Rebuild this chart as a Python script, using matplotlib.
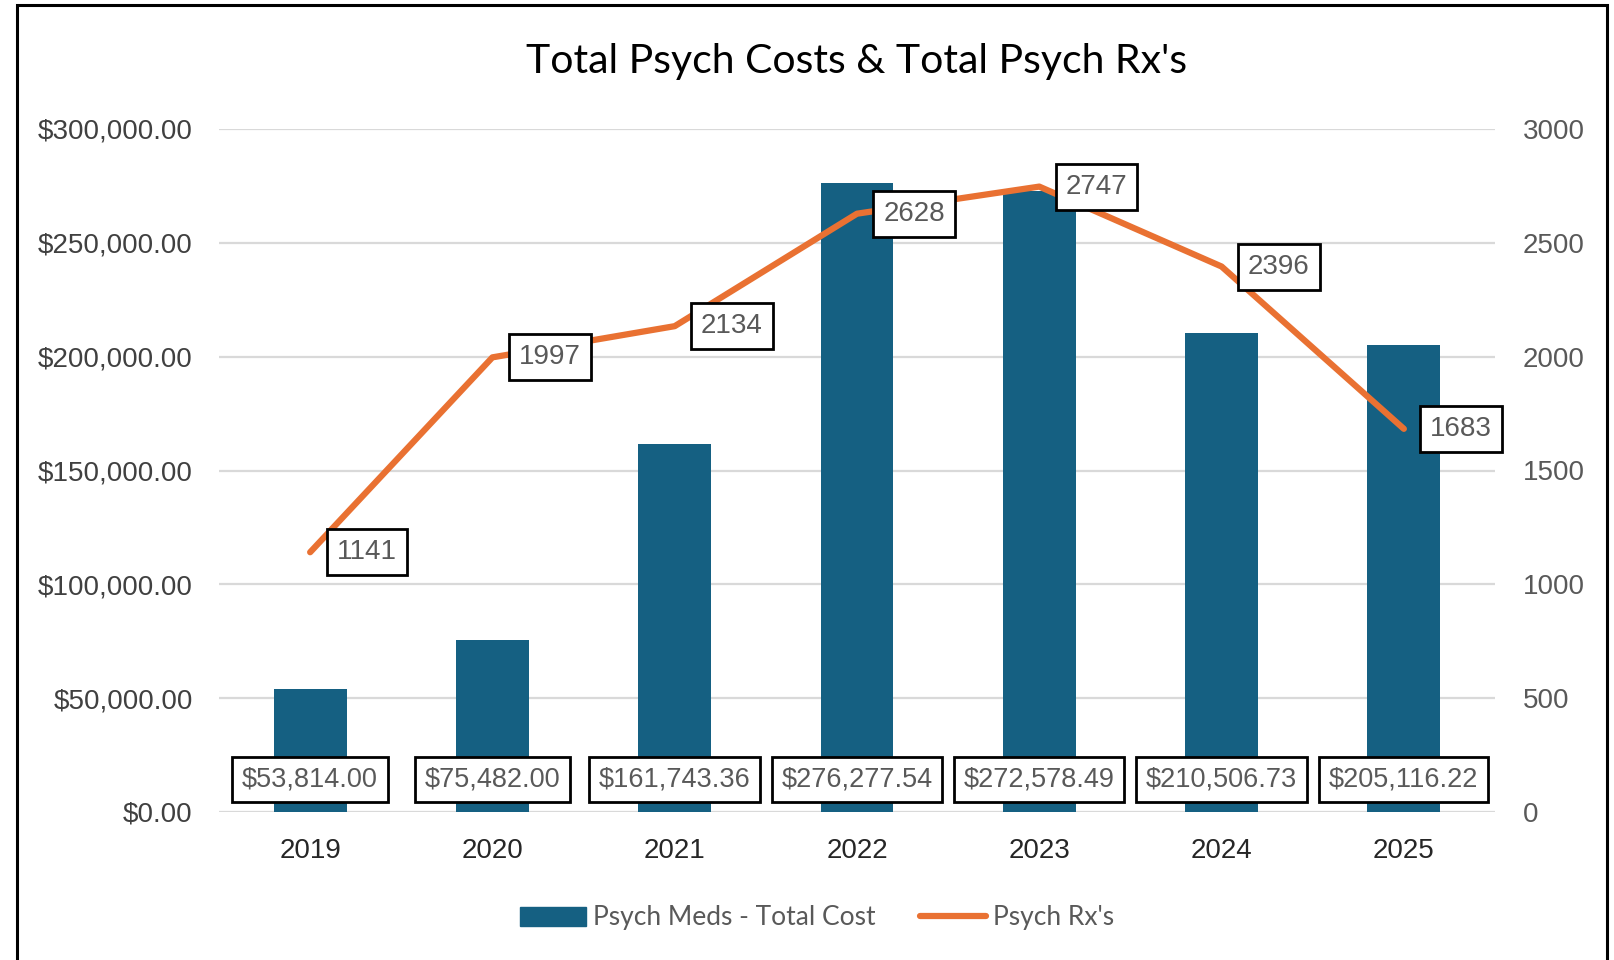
import numpy as np
import matplotlib
matplotlib.use("Agg")
import matplotlib.pyplot as plt
from matplotlib.ticker import FuncFormatter
from matplotlib.patches import Patch, Rectangle
from matplotlib.lines import Line2D

# Chart data
years = ["2019", "2020", "2021", "2022", "2023", "2024", "2025"]
total_cost = [53814.00, 75482.00, 161743.36, 276277.54, 272578.49, 210506.73, 205116.22]
psych_rx = [1141, 1997, 2134, 2628, 2747, 2396, 1683]

BLUE = "#156082"
ORANGE = "#E97132"
GRID = "#D9D9D9"
LABEL = "#595959"

W, H = 1614, 960
fig = plt.figure(figsize=(W / 100, H / 100), dpi=100)
fig.patch.set_facecolor("white")

# plot area in pixel coords from the reference
left, right, top, bottom = 219, 1495, 129, 812
ax = fig.add_axes([left / W, 1 - bottom / H, (right - left) / W, (bottom - top) / H])
ax2 = ax.twinx()

x = np.arange(len(years))

# Bars - total cost
ax.bar(x, total_cost, width=0.4, color=BLUE, zorder=2)
ax.set_xlim(-0.5, len(years) - 0.5)
ax.set_ylim(0, 300000)
ax.set_yticks(np.arange(0, 300001, 50000))
ax.yaxis.set_major_formatter(FuncFormatter(lambda v, p: f"${v:,.2f}"))
ax.set_xticks(x)
ax.set_xticklabels(years)
ax.grid(axis="y", color=GRID, lw=1.6, zorder=0)
ax.set_axisbelow(True)
for s in ax.spines.values():
    s.set_visible(False)
ax.tick_params(axis="y", length=0, pad=19, labelsize=20, labelcolor="#404040")
ax.tick_params(axis="x", length=0, pad=19, labelsize=20, labelcolor="#262626")
for lbl in ax.get_yticklabels() + ax.get_xticklabels():
    lbl.set_family("Liberation Sans")

# Line - Rx count
ax2.plot(x, psych_rx, color=ORANGE, lw=4.5, solid_capstyle="round",
         solid_joinstyle="round", zorder=3)
ax2.set_ylim(0, 3000)
ax2.set_yticks(np.arange(0, 3001, 500))
for s in ax2.spines.values():
    s.set_visible(False)
ax2.tick_params(axis="y", length=0, pad=20, labelsize=20, labelcolor=LABEL)
for lbl in ax2.get_yticklabels():
    lbl.set_family("Liberation Sans")

box = dict(boxstyle="square,pad=0.36", fc="white", ec="black", lw=2)

# data labels on the bars (inside base)
for xi, v in zip(x, total_cost):
    ax.annotate(f"${v:,.2f}", (xi, 0), xytext=(0, 23.5), textcoords="offset points",
                ha="center", va="center", fontsize=19.5, color=LABEL,
                family="Liberation Sans", bbox=box, zorder=5)

# data labels on the line (right)
for xi, r in zip(x, psych_rx):
    ax2.annotate(str(r), (xi, r), xytext=(19, 0), textcoords="offset points",
                 ha="left", va="center", fontsize=20, color=LABEL,
                 family="Liberation Sans", bbox=box, zorder=6)

# Title
fig.text(857 / W, 1 - 62 / H, "Total Psych Costs & Total Psych Rx's",
         ha="center", va="center", fontsize=29.5, family="Lato", color="black")

# Legend
handles = [Patch(facecolor=BLUE, edgecolor=BLUE),
           Line2D([0], [0], color=ORANGE, lw=4.5, solid_capstyle="round")]
fig.legend(handles, ["Psych Meds - Total Cost", "Psych Rx's"], loc="center",
           bbox_to_anchor=(817 / W, 1 - 918 / H), ncol=2, frameon=False,
           prop={"family": "Lato", "size": 19}, labelcolor=LABEL,
           handlelength=2.5, handletextpad=0.25, columnspacing=1.7)

# outer chart frame (bottom edge is cut off in the reference)
fig.patches.append(Rectangle((16.5 / W, -0.05), (1606.5 - 16.5) / W, 1.05 - 5.5 / H,
                             transform=fig.transFigure, fill=False, ec="black", lw=2.2))

fig.savefig("out.png", dpi=100)
